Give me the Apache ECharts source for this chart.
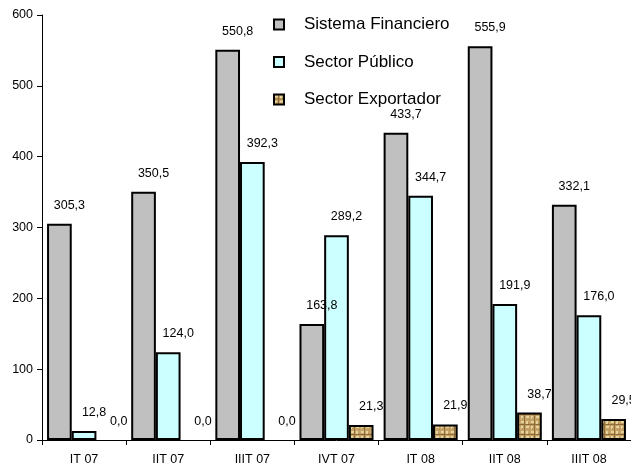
<!DOCTYPE html>
<html><head><meta charset="utf-8">
<script src="https://cdn.jsdelivr.net/npm/echarts@6/dist/echarts.min.js"></script>
<style>html,body{margin:0;padding:0;background:#fff}#c{width:631px;height:466px}</style>
</head><body><div id="c"></div>
<script>
var categories = ['IT 07','IIT 07','IIIT 07','IVT 07','IT 08','IIT 08','IIIT 08'];
var sistemaFinanciero = [305.3, 350.5, 550.8, 163.8, 433.7, 555.9, 332.1];
var sectorPublico = [12.8, 124.0, 392.3, 289.2, 344.7, 191.9, 176.0];
var sectorExportador = [0.0, 0.0, 0.0, 21.3, 21.9, 38.7, 29.5];
var yTicks = [0, 100, 200, 300, 400, 500, 600];

function makePattern(){
  var c = document.createElement('canvas'); c.width = 10; c.height = 10;
  var g = c.getContext('2d');
  g.fillStyle = '#c4a265'; g.fillRect(0,0,10,10);
  g.fillStyle = '#e6d3a0'; g.fillRect(1,1,3,2); g.fillRect(6,6,3,2); g.fillRect(6,1,2,3); g.fillRect(1,6,2,3);
  g.fillStyle = '#8e6c3a'; g.fillRect(0,4,10,1); g.fillRect(4,0,1,10);
  g.fillStyle = '#a8864e'; g.fillRect(2,8,1,1); g.fillRect(8,3,1,1); g.fillRect(9,9,1,1);
  return c;
}
function withZero(arr){ return arr.map(function(v){ return v === 0 ? {value:v, itemStyle:{borderWidth:0}} : v; }); }
var FONT = 'Liberation Sans, Arial, sans-serif';
var fmt = function(p){ return Number(p.value).toFixed(1).replace('.', ','); };
var lbl = {show:true, position:'top', distance:4, offset:[10,-8], color:'#000', fontSize:12.5, fontFamily:FONT, formatter:fmt};
var chart = echarts.init(document.getElementById('c'));
chart.setOption({
  animation:false,
  grid:{left:42, top:15, bottom:24, right:-12, containLabel:false},
  legend:{orient:'vertical', left:268, top:11, itemGap:20.5, itemWidth:10, itemHeight:10, icon:'rect',
    textStyle:{fontSize:17, fontFamily:FONT, color:'#000', padding:[0,0,0,15]},
    data:['Sistema Financiero','Sector Público','Sector Exportador']},
  xAxis:{type:'category', data:categories,
    axisLine:{lineStyle:{color:'#000', width:1}},
    axisTick:{show:true, alignWithLabel:false, length:5, lineStyle:{color:'#000'}},
    axisLabel:{color:'#000', fontSize:12.5, fontFamily:FONT, margin:13}},
  yAxis:{type:'value', min:0, max:600, interval:100,
    axisLine:{show:true, lineStyle:{color:'#000', width:1}},
    axisTick:{show:true, length:5, lineStyle:{color:'#000'}},
    splitLine:{show:false},
    axisLabel:{color:'#000', fontSize:12.5, fontFamily:FONT, margin:9}},
  series:[
    {name:'Sistema Financiero', type:'bar', data:withZero(sistemaFinanciero), barGap:'0%', barCategoryGap:'12%',
     itemStyle:{color:'#c0c0c0', borderColor:'#000', borderWidth:2}, label:lbl},
    {name:'Sector Público', type:'bar', data:withZero(sectorPublico), barGap:'0%', barCategoryGap:'12%',
     itemStyle:{color:'#ccffff', borderColor:'#000', borderWidth:2}, label:lbl},
    {name:'Sector Exportador', type:'bar', data:withZero(sectorExportador), barGap:'0%', barCategoryGap:'12%',
     itemStyle:{color:{image:makePattern(), repeat:'repeat'}, borderColor:'#000', borderWidth:2}, label:lbl}
  ]
});
</script></body></html>
